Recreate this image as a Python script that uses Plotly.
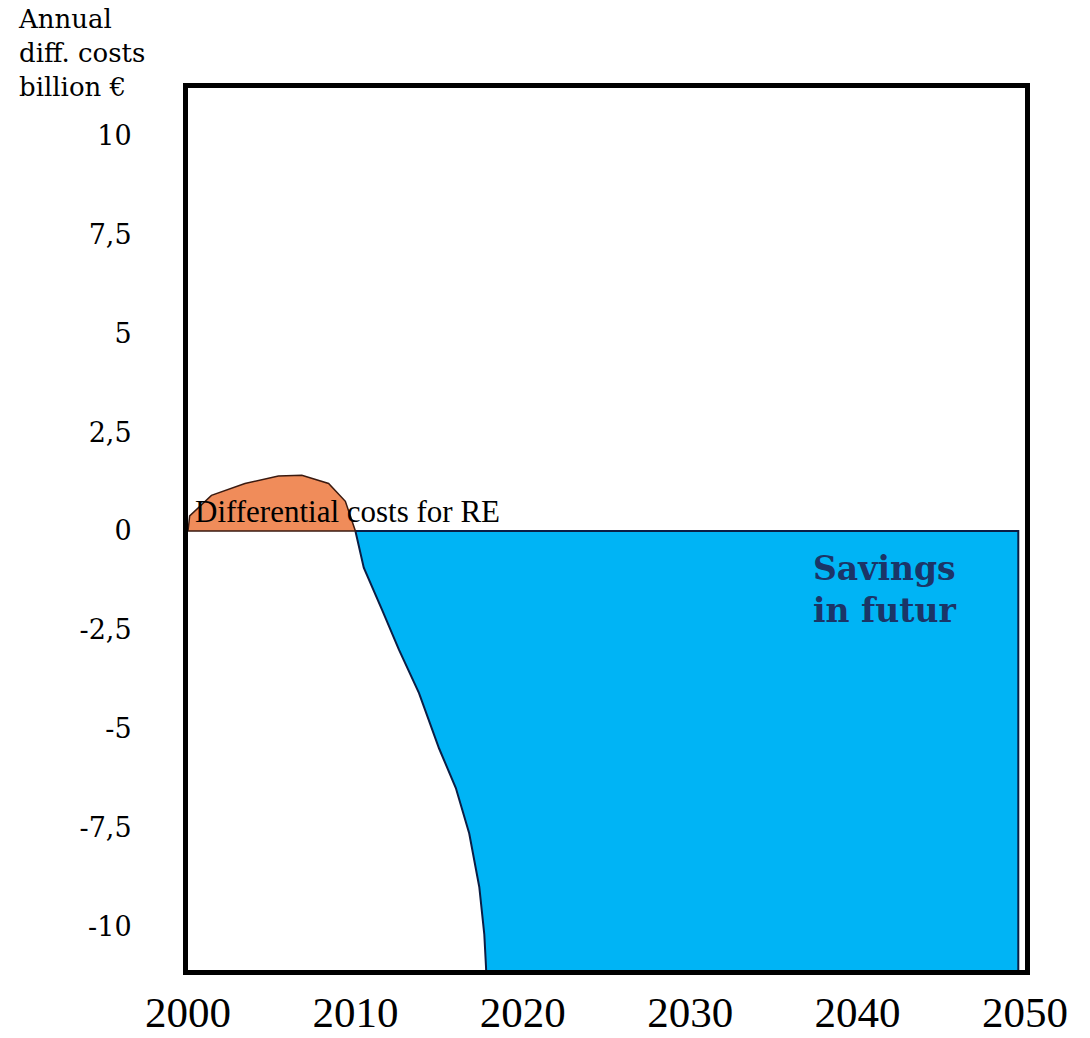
import plotly.graph_objects as go

# --- data ---
re_cost_years = [2000.0, 2000.1, 2001.4, 2003.4, 2005.4, 2006.8, 2008.4, 2009.4, 2010.0, 2000.0]
re_cost_values = [0.0, 0.38, 0.9, 1.2, 1.39, 1.41, 1.2, 0.75, 0.0, 0.0]

savings_years = [2010.0, 2010.5, 2011.6, 2012.6, 2013.8, 2015.0, 2016.0, 2016.8, 2017.4, 2017.7, 2017.8, 2017.9,
                 2049.6, 2049.6, 2010.0]
savings_values = [0.0, -0.93, -2.0, -3.0, -4.1, -5.5, -6.5, -7.65, -9.0, -10.2, -11.0, -12.0,
                  -12.0, 0.0, 0.0]

y_tick_vals = [-10, -7.5, -5, -2.5, 0, 2.5, 5, 7.5, 10]
y_tick_text = ["-10", "-7,5", "-5", "-2,5", "0", "2,5", "5", "7,5", "10"]
x_tick_vals = [2000, 2010, 2020, 2030, 2040, 2050]
x_tick_text = ["2000", "2010", "2020", "2030", "2040", "2050"]

SERIF = "Liberation Serif, Times New Roman, serif"
WIDE_SERIF = "DejaVu Serif, serif"

W, H = 1090, 1038
ML, MR, MT, MB = 188, 65, 88, 68
PW, PH = W - ML - MR, H - MT - MB

fig = go.Figure()
fig.add_trace(go.Scatter(
    x=savings_years, y=savings_values, mode="lines", fill="toself",
    fillcolor="#00B4F5", line=dict(color="#0B1E45", width=2), hoverinfo="skip",
    showlegend=False))
fig.add_trace(go.Scatter(
    x=re_cost_years, y=re_cost_values, mode="lines", fill="toself",
    fillcolor="#F08C5A", line=dict(color="#3A1A10", width=1.5), hoverinfo="skip",
    showlegend=False))

fig.add_annotation(x=2000.3, y=0.5, xref="x", yref="y", text="Differential costs for RE",
                   showarrow=False, xanchor="left", yanchor="middle",
                   font=dict(family=SERIF, size=31, color="#000000"))
fig.add_annotation(x=2041.6, y=-0.95, xref="x", yref="y", text="Savings",
                   showarrow=False, xanchor="center", yanchor="middle",
                   font=dict(family=WIDE_SERIF, size=33, color="#1B3567", weight="bold"))
fig.add_annotation(x=2041.6, y=-2.0, xref="x", yref="y", text="in futur",
                   showarrow=False, xanchor="center", yanchor="middle",
                   font=dict(family=WIDE_SERIF, size=33, color="#1B3567", weight="bold"))
fig.add_annotation(x=(16 - ML) / PW, y=1 + (MT - 2) / PH, xref="paper", yref="paper",
                   text="Annual<br>diff. costs<br>billion €", showarrow=False,
                   xanchor="left", yanchor="top", align="left",
                   font=dict(family=WIDE_SERIF, size=26, color="#000000"))

fig.update_layout(
    width=W, height=H,
    margin=dict(l=ML, r=MR, t=MT, b=MB, autoexpand=False),
    paper_bgcolor="white", plot_bgcolor="white",
    showlegend=False,
)

fig.update_xaxes(range=[2000, 2050], tickvals=x_tick_vals, ticktext=x_tick_text,
                 showgrid=False, zeroline=False, showline=True, linecolor="black",
                 linewidth=5, mirror=True, ticks="", ticklabelstandoff=0, automargin=False,
                 tickfont=dict(family=SERIF, size=43, color="black"))
fig.update_yaxes(range=[-11.1, 11.2], tickvals=y_tick_vals, ticktext=y_tick_text,
                 showgrid=False, zeroline=False, showline=True, linecolor="black",
                 linewidth=5, mirror=True, ticks="", ticklabelstandoff=46, automargin=False,
                 tickfont=dict(family=WIDE_SERIF, size=27, color="black"))

fig.write_html("out.html")
